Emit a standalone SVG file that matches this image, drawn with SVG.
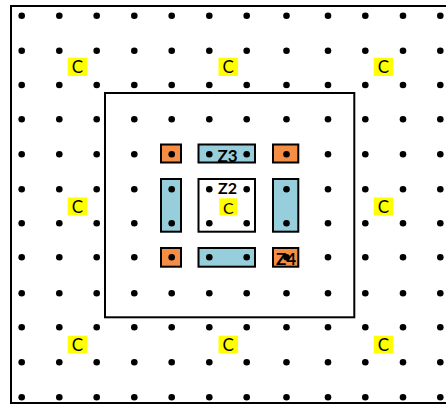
<svg xmlns="http://www.w3.org/2000/svg" xmlns:xlink="http://www.w3.org/1999/xlink" width="446" height="405" viewBox="0 0 446 405">
<style>
.frame{fill:none;stroke:#000;stroke-width:2}
.or{fill:#F58D45;stroke:#000;stroke-width:2}
.bl{fill:#96CEDC;stroke:#000;stroke-width:2}
.wh{fill:#fff;stroke:#000;stroke-width:2}
.dot{fill:#000}
.cb{fill:#FFFF00}
.t{font-family:Lato,"Open Sans","Liberation Sans",sans-serif;font-size:17px;fill:#000;text-anchor:middle}
.s{font-size:16px}
.z{font-size:17px;font-weight:bold}
</style>
<defs>
<circle id="d" r="3.3" class="dot"/>
</defs>
<rect width="446" height="405" fill="#fff"/>
<rect id="outer" class="frame" x="11" y="6" width="445" height="397"/>
<rect id="inner" class="frame" x="105" y="93" width="249.3" height="224.3"/>
<g id="shapes">
<g id="o1"><rect class="or" x="161" y="144.5" width="20" height="18"/></g>
<g id="z3"><rect class="bl" x="198.5" y="144.5" width="56.5" height="18"/></g>
<g id="o2"><rect class="or" x="273" y="144.5" width="25.3" height="18"/></g>
<g id="lb"><rect class="bl" x="161" y="179" width="20" height="52.7"/></g>
<g id="z2"><rect class="wh" x="198.5" y="179" width="56.5" height="52.7"/></g>
<g id="rb"><rect class="bl" x="273" y="179" width="25.3" height="52.7"/></g>
<g id="o3"><rect class="or" x="161" y="248" width="20" height="18.7"/></g>
<g id="bb"><rect class="bl" x="198.5" y="248" width="56.5" height="18.7"/></g>
<g id="z4"><rect class="or" x="273" y="248" width="25.3" height="18.7"/></g>
</g>
<g id="dots">
<g id="r1" transform="translate(0,15.7)"><use href="#d" x="21.7"/><use href="#d" x="59.3"/><use href="#d" x="96.7"/><use href="#d" x="134.3"/><use href="#d" x="171.7"/><use href="#d" x="209.3"/><use href="#d" x="246.7"/><use href="#d" x="286.5"/><use href="#d" x="328"/><use href="#d" x="365.3"/><use href="#d" x="403"/><use href="#d" x="440.3"/></g>
<use href="#r1" y="35"/>
<use href="#r1" y="69.3"/>
<use href="#r1" y="103.6"/>
<use href="#r1" y="138.6"/>
<use href="#r1" y="173.6"/>
<use href="#r1" y="207.6"/>
<use href="#r1" y="241.6"/>
<use href="#r1" y="277.6"/>
<use href="#r1" y="311.6"/>
<use href="#r1" y="346.6"/>
<use href="#r1" y="381.6"/>
</g>
<g id="labels">
<g id="c1"><rect class="cb" x="67.7" y="57.7" width="19.6" height="18.3"/><text class="t" x="77.5" y="73.3">C</text></g>
<g id="c2"><rect class="cb" x="218.5" y="57.7" width="19.6" height="18.3"/><text class="t" x="228.3" y="73.3">C</text></g>
<g id="c3"><rect class="cb" x="373.7" y="57.7" width="19.6" height="18.3"/><text class="t" x="383.5" y="73.3">C</text></g>
<g id="c4"><rect class="cb" x="67.7" y="197.5" width="19.6" height="18"/><text class="t" x="77.5" y="213">C</text></g>
<g id="c5"><rect class="cb" x="219.3" y="198.3" width="18" height="17"/><text class="t s" x="228.3" y="213.5">C</text></g>
<g id="c6"><rect class="cb" x="373.7" y="197.5" width="19.6" height="18"/><text class="t" x="383.5" y="213">C</text></g>
<g id="c7"><rect class="cb" x="67.7" y="335.7" width="19.6" height="17.6"/><text class="t" x="77.5" y="351">C</text></g>
<g id="c8"><rect class="cb" x="218.5" y="335.7" width="19.6" height="17.6"/><text class="t" x="228.3" y="351">C</text></g>
<g id="c9"><rect class="cb" x="373.7" y="335.7" width="19.6" height="17.6"/><text class="t" x="383.5" y="351">C</text></g>
<text class="t z" x="227.5" y="161.5">Z3</text>
<text class="t s" x="227.5" y="193.5" font-weight="bold">Z2</text>
<text class="t z" x="286" y="265">Z4</text>
</g>
</svg>
